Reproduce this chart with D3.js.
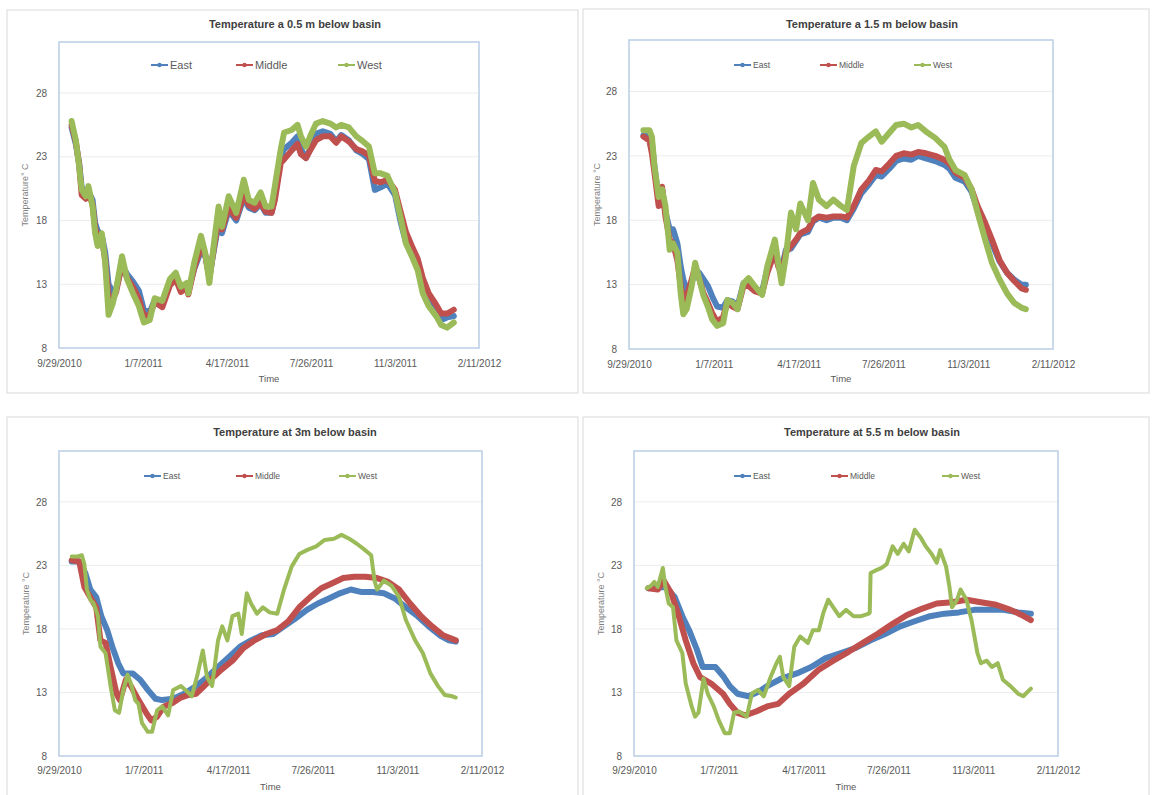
<!DOCTYPE html>
<html lang="en">
<head>
<meta charset="UTF-8" />
<title>Temperature below basin</title>
<script src="https://d3js.org/d3.v7.min.js"></script>
<style>
  body { margin: 0; background: #fff; }
  svg { display: block; font-family: "Liberation Sans", Arial, sans-serif; }
  .tick text { fill: #595959; }
</style>
</head>
<body>
<svg id="chart" width="1154" height="795"></svg>
<script>
// ---- data (days counted from 9/29/2010, temperatures in °C) ----
const seriesNames = ["East", "Middle", "West"];
const colors = ["#4f81bd", "#c0504d", "#9bbb59"];
const xTickLabels = ["9/29/2010", "1/7/2011", "4/17/2011", "7/26/2011", "11/3/2011", "2/11/2012"];
const yTicks = [8, 13, 18, 23, 28];
const titles = [
  "Temperature a 0.5 m below basin",
  "Temperature a 1.5 m below basin",
  "Temperature at 3m below basin",
  "Temperature at 5.5 m below basin"
];
const yTitles = ["Temperature\u00b0 C", "Temperature \u00b0C", "Temperature \u00b0C", "Temperature \u00b0C"];

// 0.5 m
const p1Days = [15,20,24,27,32,35,40,43,46,51,55,59,64,68,75,81,88,95,101,108,114,123,132,139,145,152,154,161,169,174,179,185,190,194,202,211,220,226,233,240,246,253,257,264,268,277,284,288,294,299,306,314,323,330,336,345,354,362,369,376,383,391,400,407,413,420,427,433,440,449,455,462,470];
const p1East = [25.3,24.0,22.5,20.6,20.0,20.3,19.6,17.8,17.2,16.8,15.5,13.0,12.4,12.6,14.5,13.8,13.2,12.5,11.0,10.8,11.8,11.6,13.0,13.5,12.6,12.8,12.5,14.2,15.6,15.3,13.6,15.9,17.8,17.0,18.8,18.0,19.8,19.0,18.8,19.3,18.6,18.6,19.8,23.0,23.6,24.1,24.6,23.6,22.9,23.6,24.8,25.0,24.8,24.2,24.7,24.3,23.5,23.2,22.8,20.4,20.6,20.9,20.0,17.8,16.3,15.5,14.3,12.8,11.7,10.8,10.2,10.4,10.5];
const p1Middle = [25.5,24.2,22.4,20.0,19.7,20.3,19.2,17.4,16.8,16.6,14.9,12.0,11.8,12.4,14.6,13.5,12.8,11.9,10.5,10.6,11.6,11.2,12.9,13.4,12.4,12.7,12.2,14.3,15.9,15.3,13.5,16.1,18.1,17.3,19.0,18.2,20.0,19.2,18.9,19.4,18.7,18.6,19.6,22.5,22.8,23.5,24.0,23.2,22.9,23.5,24.3,24.6,24.6,24.1,24.6,24.2,23.6,23.4,23.1,21.1,21.0,21.2,20.4,18.6,17.1,16.0,15.0,13.5,12.3,11.4,10.7,10.7,11.0];
const p1West = [25.8,24.3,22.2,20.4,19.9,20.7,19.1,17.0,16.0,17.0,14.7,10.6,11.5,12.6,15.2,13.4,12.3,11.3,10.0,10.2,11.9,11.7,13.4,13.9,12.8,13.1,12.3,14.7,16.8,15.5,13.1,16.5,19.1,17.5,19.9,18.6,21.2,19.6,19.4,20.2,19.1,19.1,20.7,23.6,24.9,25.1,25.5,24.6,23.8,24.6,25.6,25.8,25.6,25.3,25.5,25.3,24.6,24.2,23.8,21.7,21.7,21.5,20.2,18.1,16.2,15.2,14.1,12.3,11.3,10.5,9.8,9.6,10.0];

// 1.5 m
const p2Days = [17,24,27,30,35,39,43,48,52,57,61,64,68,74,78,83,88,93,98,104,111,116,122,128,135,141,148,157,163,172,176,180,185,191,197,202,211,217,224,233,241,250,257,265,274,283,291,298,307,315,324,333,341,350,361,372,378,385,396,404,411,420,428,437,446,454,463,468];
const p2East = [24.6,24.5,24.0,22.2,19.6,20.4,18.6,17.3,17.3,16.2,14.4,13.4,12.6,13.1,14.2,13.9,13.4,12.9,12.1,11.3,11.2,11.8,11.7,11.3,13.1,13.1,12.7,12.5,14.2,16.0,14.7,14.2,15.7,15.8,16.4,16.9,17.1,17.9,18.2,18.0,18.2,18.2,18.0,18.9,20.1,20.8,21.5,21.4,22.0,22.6,22.8,22.7,23.0,22.8,22.6,22.3,22.0,21.3,21.0,20.2,18.8,17.5,16.2,14.8,13.9,13.4,13.0,13.0];
const p2Middle = [24.5,24.2,23.2,21.7,19.1,20.6,18.3,16.5,16.2,14.9,12.9,11.8,12.1,13.4,14.4,13.4,12.3,11.6,10.8,10.1,10.5,11.6,11.3,11.1,12.9,12.9,12.5,12.3,13.9,15.5,14.4,13.9,15.5,16.0,16.5,17.0,17.3,18.0,18.3,18.2,18.3,18.3,18.2,19.1,20.4,21.1,21.9,21.8,22.4,23.0,23.2,23.1,23.3,23.2,23.0,22.7,22.4,21.7,21.3,20.4,19.1,17.8,16.5,14.9,13.9,13.3,12.7,12.6];
const p2West = [25.0,25.0,24.5,22.2,19.8,20.4,19.1,15.7,16.2,15.5,12.3,10.7,11.1,12.9,14.7,13.4,12.1,11.3,10.3,9.8,10.0,11.8,11.6,11.1,13.1,13.5,12.9,12.2,14.4,16.5,14.7,13.1,15.2,18.6,17.3,19.3,18.0,20.9,19.6,19.1,19.6,19.1,18.8,22.2,24.0,24.5,24.9,24.1,24.8,25.4,25.5,25.2,25.4,24.9,24.4,23.7,22.7,21.9,21.5,20.4,18.6,16.5,14.7,13.4,12.3,11.6,11.2,11.1];

// 3 m
const p3EastDays = [15,24,31,37,44,50,57,63,70,76,87,96,105,114,122,135,148,162,175,188,201,214,227,240,253,266,279,293,306,319,332,345,358,371,384,397,410,424,437,450,461,469];
const p3East = [23.3,23.3,22.4,21.1,20.5,19.0,17.9,16.6,15.3,14.5,14.5,14.0,13.2,12.5,12.4,12.5,12.9,13.5,14.2,15.0,15.8,16.6,17.1,17.5,17.6,18.2,18.8,19.5,20.0,20.4,20.8,21.1,20.9,20.9,20.8,20.4,19.7,19.0,18.2,17.5,17.1,17.0];
const p3MiddleDays = [15,24,30,37,44,49,55,61,68,72,79,85,94,103,109,116,124,135,144,153,162,170,179,192,205,218,231,245,258,271,284,297,310,323,336,349,362,376,389,402,415,428,441,454,469];
const p3Middle = [23.4,23.3,21.3,20.5,19.7,17.1,16.9,15.0,12.9,12.4,14.0,13.5,12.4,11.4,10.8,11.1,11.9,12.2,12.6,12.8,12.9,13.4,14.0,14.8,15.5,16.5,17.1,17.6,17.9,18.6,19.7,20.5,21.2,21.6,22.0,22.1,22.1,22.0,21.7,21.1,20.0,19.0,18.2,17.5,17.1];
const p3WestDays = [15,22,27,30,33,37,41,46,49,55,61,66,71,76,81,85,90,94,98,105,110,116,122,129,135,144,151,157,164,170,175,181,188,193,199,205,212,216,222,227,234,241,249,258,266,275,284,293,304,314,325,334,343,352,360,369,373,376,384,393,402,410,421,430,439,448,456,465,469];
const p3West = [23.7,23.7,23.8,23.1,21.1,20.3,20.0,19.0,16.6,16.1,13.5,11.6,11.4,13.2,14.4,13.7,12.4,12.1,10.6,9.9,9.9,11.6,11.9,11.2,13.2,13.5,13.1,12.7,14.5,16.3,14.2,13.5,17.1,18.2,17.1,19.0,19.2,17.6,20.8,20.0,19.2,19.7,19.3,19.2,21.1,22.9,23.9,24.2,24.5,25.0,25.1,25.4,25.1,24.7,24.3,23.8,21.8,21.1,21.8,21.4,20.5,18.7,17.1,16.1,14.5,13.5,12.8,12.7,12.6];

// 5.5 m
const p4EastDays = [17,37,48,57,65,74,81,96,105,113,122,135,148,157,174,192,209,226,244,261,279,296,314,331,349,366,383,401,418,436,453,468];
const p4East = [21.2,21.3,20.5,19.0,17.9,16.4,15.0,15.0,14.3,13.5,12.9,12.7,13.1,13.5,14.1,14.5,15.0,15.7,16.1,16.5,17.1,17.6,18.2,18.6,19.0,19.2,19.3,19.5,19.5,19.5,19.3,19.2];
const p4MiddleDays = [17,28,35,44,52,61,70,78,91,105,113,122,131,144,157,170,183,200,218,235,253,270,287,305,322,340,357,375,392,409,427,444,457,468];
const p4Middle = [21.2,21.1,21.8,20.8,19.2,17.1,15.3,14.2,13.7,12.9,12.1,11.4,11.2,11.5,11.9,12.1,12.9,13.7,14.8,15.5,16.2,16.9,17.6,18.4,19.1,19.6,20.0,20.1,20.3,20.1,19.9,19.5,19.1,18.7];
const p4WestDays = [15,20,24,28,34,37,41,46,50,57,61,68,72,76,82,87,94,100,107,113,118,124,133,139,146,153,161,168,172,176,183,189,196,205,211,218,223,229,235,242,250,259,268,277,278,279,285,292,298,305,311,318,324,331,338,344,351,357,361,368,372,375,381,385,392,398,405,409,416,422,429,435,444,453,459,468];
const p4West = [21.2,21.4,21.7,21.3,22.8,21.3,20.0,19.7,17.1,16.1,13.7,11.9,11.1,11.4,14.1,12.9,11.9,10.8,9.8,9.8,11.4,11.5,11.1,12.9,13.2,12.7,14.2,15.3,15.8,14.2,13.5,16.6,17.4,16.9,17.9,17.9,19.2,20.3,19.7,19.0,19.5,19.0,19.0,19.2,19.3,22.4,22.6,22.8,23.1,24.5,23.9,24.7,24.1,25.8,25.2,24.5,23.9,23.2,24.2,22.9,21.3,19.7,20.3,21.1,20.3,18.7,16.1,15.3,15.5,15.0,15.3,14.0,13.5,12.9,12.7,13.3];

const panelSeries = [
  [[p1Days, p1East], [p1Days, p1Middle], [p1Days, p1West]],
  [[p2Days, p2East], [p2Days, p2Middle], [p2Days, p2West]],
  [[p3EastDays, p3East], [p3MiddleDays, p3Middle], [p3WestDays, p3West]],
  [[p4EastDays, p4East], [p4MiddleDays, p4Middle], [p4WestDays, p4West]]
];

// ---- layout ----
const layout = [
  {box: [7, 10, 571, 383],  l: 59,  r: 479,  t: 42,  b: 348, titleX: 295, titleY: 28,  legY: 65,  legX: [151, 236, 338], legFont: 11,  xLabY: 367, timeY: 382, yTitleX: 25,  widths: [6, 6, 6]},
  {box: [583, 9, 566, 384], l: 629, r: 1053, t: 40,  b: 349, titleX: 872, titleY: 28,  legY: 65,  legX: [734, 820, 914], legFont: 8.5, xLabY: 368, timeY: 382, yTitleX: 597, widths: [6, 6, 6]},
  {box: [7, 417, 571, 390], l: 59,  r: 482,  t: 451, b: 756, titleX: 295, titleY: 436, legY: 476, legX: [144, 236, 339], legFont: 8.5, xLabY: 774, timeY: 790, yTitleX: 26,  widths: [6, 6, 4]},
  {box: [583, 417, 566, 390], l: 634, r: 1058, t: 451, b: 756, titleX: 872, titleY: 436, legY: 476, legX: [734, 831, 942], legFont: 8.5, xLabY: 774, timeY: 790, yTitleX: 601, widths: [6, 6, 4]}
];

const parseLabel = d3.timeParse("%m/%d/%Y");
const start = parseLabel(xTickLabels[0]);
const end = parseLabel(xTickLabels[xTickLabels.length - 1]);
const tickDates = xTickLabels.map(parseLabel);
const fmt = d3.timeFormat("%-m/%-d/%Y");

const svg = d3.select("#chart");

layout.forEach((L, p) => {
  const g = svg.append("g");

  // chart area outline
  g.append("rect")
    .attr("x", L.box[0]).attr("y", L.box[1])
    .attr("width", L.box[2]).attr("height", L.box[3])
    .attr("fill", "#fff").attr("stroke", "#d9d9d9").attr("stroke-width", 1);

  const x = d3.scaleTime().domain([start, end]).range([L.l, L.r]);
  const y = d3.scaleLinear().domain([8, 32]).range([L.b, L.t]);

  // gridlines
  g.append("g")
    .selectAll("line")
    .data(yTicks.slice(1))
    .enter().append("line")
      .attr("x1", L.l).attr("x2", L.r)
      .attr("y1", d => y(d)).attr("y2", d => y(d))
      .attr("stroke", "#ececec").attr("stroke-width", 1);

  // plot frame
  g.append("rect")
    .attr("x", L.l).attr("y", L.t)
    .attr("width", L.r - L.l).attr("height", L.b - L.t)
    .attr("fill", "none").attr("stroke", "#b9cde5").attr("stroke-width", 1.5);

  // axes
  const yAxis = g.append("g")
    .attr("transform", `translate(${L.l},0)`)
    .call(d3.axisLeft(y).tickValues(yTicks).tickSize(0).tickPadding(12));
  yAxis.select(".domain").remove();
  yAxis.selectAll("text").attr("font-size", "10px");

  const xAxis = g.append("g")
    .attr("transform", `translate(0,${L.b})`)
    .call(d3.axisBottom(x).tickValues(tickDates).tickFormat(fmt).tickSize(0).tickPadding(0));
  xAxis.select(".domain").remove();
  xAxis.selectAll("text")
    .attr("font-size", "10px")
    .attr("dy", null)
    .attr("y", L.xLabY - L.b);

  // titles
  g.append("text")
    .attr("x", L.titleX).attr("y", L.titleY)
    .attr("text-anchor", "middle")
    .attr("font-size", "11px").attr("font-weight", "bold")
    .attr("fill", "#404040")
    .text(titles[p]);

  g.append("text")
    .attr("x", (L.l + L.r) / 2).attr("y", L.timeY)
    .attr("text-anchor", "middle")
    .attr("font-size", "9.5px").attr("fill", "#595959")
    .text("Time");

  g.append("text")
    .attr("transform", `translate(${L.yTitleX + 3},${(L.t + L.b) / 2}) rotate(-90)`)
    .attr("text-anchor", "middle")
    .attr("font-size", "9px").attr("fill", "#7f7f7f")
    .text(yTitles[p]);

  // lines
  const line = d3.line()
    .x(d => x(d3.timeDay.offset(start, d[0])))
    .y(d => y(d[1]));

  panelSeries[p].forEach(([days, temps], i) => {
    g.append("path")
      .datum(days.map((d, k) => [d, temps[k]]))
      .attr("fill", "none")
      .attr("stroke", colors[i])
      .attr("stroke-width", L.widths[i])
      .attr("stroke-linejoin", "round")
      .attr("stroke-linecap", "round")
      .attr("d", line);
  });

  // legend
  seriesNames.forEach((name, i) => {
    const lx = L.legX[i];
    g.append("line")
      .attr("x1", lx).attr("x2", lx + 17)
      .attr("y1", L.legY).attr("y2", L.legY)
      .attr("stroke", colors[i]).attr("stroke-width", 2);
    g.append("circle")
      .attr("cx", lx + 8.5).attr("cy", L.legY).attr("r", 2.2)
      .attr("fill", colors[i]);
    g.append("text")
      .attr("x", lx + 19).attr("y", L.legY)
      .attr("dy", "0.35em")
      .attr("font-size", L.legFont + "px")
      .attr("fill", "#595959")
      .text(name);
  });
});
</script>
</body>
</html>
